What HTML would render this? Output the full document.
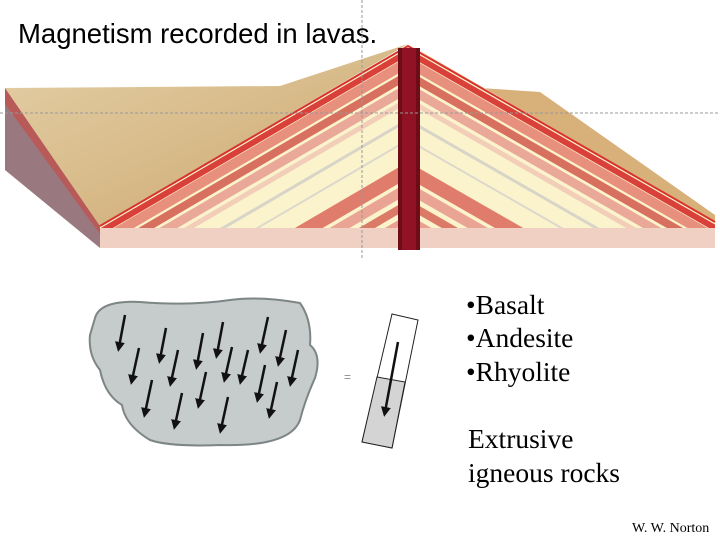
<!DOCTYPE html>
<html><head><style>body{margin:0;background:#fff}svg{display:block}</style></head><body>
<svg width="720" height="540" viewBox="0 0 720 540" xmlns="http://www.w3.org/2000/svg">
<defs>
<clipPath id="cs"><polygon points="100,226 408,46 715,222 715,248 100,248"/></clipPath>
<linearGradient id="top" x1="0" y1="0" x2="1" y2="1"><stop offset="0" stop-color="#e3cfa6"/><stop offset="0.5" stop-color="#d8bb8a"/><stop offset="1" stop-color="#c9a068"/></linearGradient>
<marker id="ah" markerWidth="4" markerHeight="4" refX="2" refY="2" orient="auto" markerUnits="strokeWidth"><path d="M0,0 L4,2 L0,4 z" fill="#111"/></marker>
</defs>
<text x="18" y="43" font-family="Liberation Sans, sans-serif" font-size="27.5">Magnetism recorded in lavas.</text>
<polygon points="5,88 100,226 100,248 5,170" fill="#9a7880"/>
<polygon points="5,88 100,226 100,234 5,104" fill="#b85a58"/>
<polygon points="5,88 280,86 408,44 100,226" fill="url(#top)"/>
<polygon points="408,44 480,88 540,92 715,215 715,222" fill="#d8b07a"/>
<g clip-path="url(#cs)">
<rect x="100" y="40" width="620" height="210" fill="#fbf3cc"/>
<g fill="none" stroke-linejoin="miter">
<polyline points="100,232 408,52 715,228" stroke="#d9403a" stroke-width="6"/>
<polyline points="100,242 408,62 715,238" stroke="#e8907e" stroke-width="10"/>
<polyline points="100,255 408,75 715,251" stroke="#d87060" stroke-width="8"/>
<polyline points="100,268 408,88 715,264" stroke="#eaa898" stroke-width="9"/>
<polyline points="100,280 408,100 715,276" stroke="#f2cdb8" stroke-width="5"/>
<polyline points="100,300 408,120 715,296" stroke="#d8d4c8" stroke-width="3"/>
<polyline points="100,320 408,140 715,316" stroke="#dcd8cc" stroke-width="2"/>
<polyline points="100,350 408,170 715,346" stroke="#e07c6c" stroke-width="14"/>
<polyline points="100,368 408,188 715,364" stroke="#eaa494" stroke-width="10"/>
<polyline points="100,384 408,204 715,380" stroke="#dc7a68" stroke-width="8"/>
<polyline points="100,398 408,218 715,394" stroke="#e9a090" stroke-width="6"/>
</g>
<rect x="100" y="228" width="620" height="22" fill="#efd0c2"/>
</g>
<polyline points="100,226 408,46 715,222" fill="none" stroke="#d8322c" stroke-width="2"/>
<rect x="398" y="48" width="22" height="202" fill="#6e0c18"/>
<rect x="402" y="48" width="14" height="202" fill="#b01a30" opacity="0.5"/>
<line x1="0" y1="113" x2="720" y2="113" stroke="#999" stroke-dasharray="3,2" stroke-width="1"/>
<line x1="362" y1="0" x2="362" y2="258" stroke="#999" stroke-dasharray="3,2" stroke-width="1"/>
<path d="M95,318 Q100,300 140,302 Q190,306 230,300 Q260,296 300,303 Q312,320 310,345 Q322,355 315,378 Q305,400 300,420 Q290,447 220,445 Q170,447 150,440 Q125,425 122,405 Q105,395 100,370 Q88,355 90,335 Z" fill="#c6cbcb" stroke="#7d8585" stroke-width="2"/>
<g stroke="#111" stroke-width="2.5" marker-end="url(#ah)">
<line x1="125" y1="315" x2="119" y2="347"/>
<line x1="166" y1="328" x2="160" y2="359"/>
<line x1="139" y1="348" x2="132" y2="380"/>
<line x1="178" y1="350" x2="171" y2="382"/>
<line x1="203" y1="333" x2="197" y2="365"/>
<line x1="223" y1="322" x2="217" y2="354"/>
<line x1="232" y1="347" x2="225" y2="378"/>
<line x1="152" y1="380" x2="145" y2="413"/>
<line x1="182" y1="393" x2="175" y2="425"/>
<line x1="206" y1="372" x2="199" y2="404"/>
<line x1="248" y1="350" x2="241" y2="380"/>
<line x1="268" y1="317" x2="261" y2="349"/>
<line x1="286" y1="330" x2="279" y2="362"/>
<line x1="298" y1="350" x2="291" y2="382"/>
<line x1="265" y1="365" x2="258" y2="398"/>
<line x1="277" y1="382" x2="270" y2="414"/>
<line x1="228" y1="397" x2="221" y2="429"/>
</g>
<text x="344" y="381" font-family="Liberation Sans, sans-serif" font-size="12" fill="#888">=</text>
<polygon points="392,314 418,320 392,448 362,442" fill="#fff" stroke="#222" stroke-width="1"/>
<polygon points="377,377 405,382 392,448 362,442" fill="#d4d4d4" stroke="#222" stroke-width="1"/>
<line x1="398" y1="342" x2="385" y2="412" stroke="#111" stroke-width="2.5" marker-end="url(#ah)"/>
<g font-family="Liberation Serif, serif" font-size="27.5" fill="#000">
<text x="466" y="314">•Basalt</text>
<text x="466" y="347">•Andesite</text>
<text x="466" y="381">•Rhyolite</text>
<text x="468" y="448">Extrusive</text>
<text x="468" y="482">igneous rocks</text>
</g>
<text x="632" y="532" font-family="Liberation Serif, serif" font-size="14">W. W. Norton</text>
</svg>
</body></html>
